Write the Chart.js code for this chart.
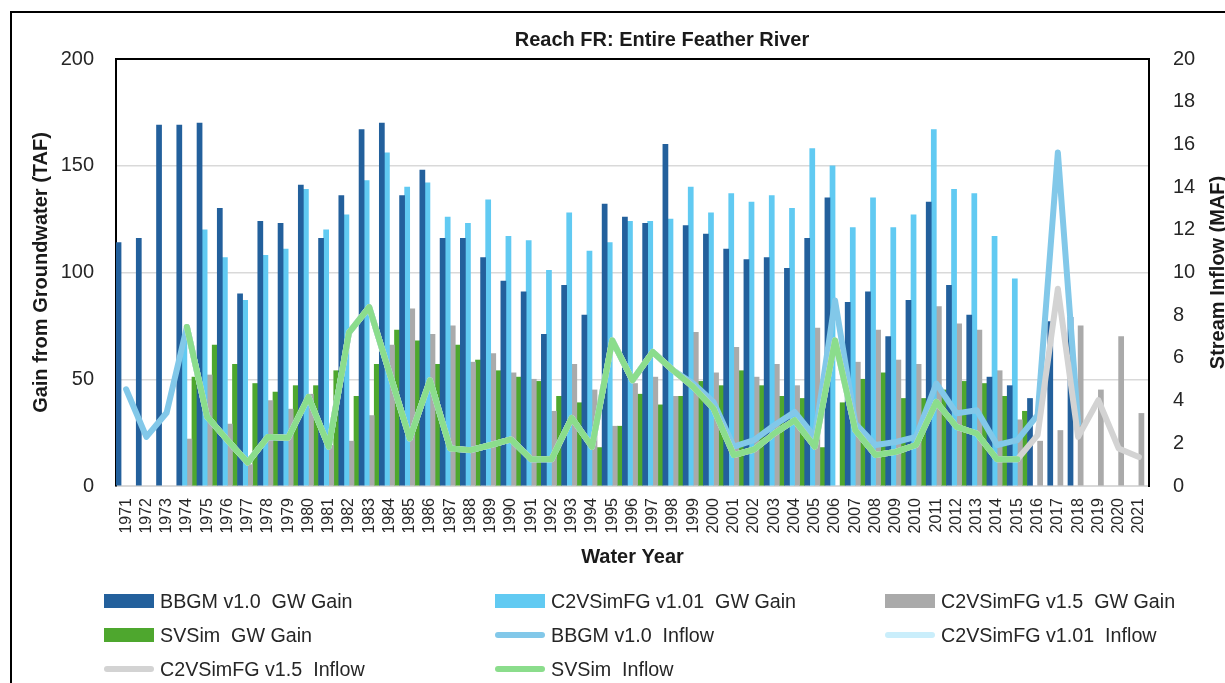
<!DOCTYPE html>
<html>
<head>
<meta charset="utf-8">
<script src="https://cdn.jsdelivr.net/npm/chart.js@4.4.1/dist/chart.umd.min.js"></script>
<style>
  html, body { margin: 0; padding: 0; background: #fff; }
  #wrap { position: relative; width: 1225px; height: 683px; overflow: hidden; }
  .lg-text { position: absolute; font: 19.7px 'Liberation Sans', Arial, sans-serif; color: #262626; white-space: pre; line-height: 22px; }
  .lg-sw { position: absolute; }
</style>
</head>
<body>
<div id="wrap">
  <canvas id="chart" width="1225" height="683"></canvas>
  <div id="legend"></div>
</div>
<script>
const years = [];
for (let y = 1971; y <= 2021; y++) years.push(String(y));

// GW gain, TAF (left axis)
const bbgmGain = [114, 116, 169, 169, 170, 130, 90, 124, 123, 141, 116, 136, 167, 170, 136, 148, 116, 116, 107, 96,
  91, 71, 94, 80, 132, 126, 123, 160, 122, 118, 111, 106, 107, 102, 116, 135, 86, 91, 70, 87,
  133, 94, 80, 51, 47, 41, 77, 79, null, null, null];
const c2v101Gain = [null, null, null, 69, 120, 107, 87, 108, 111, 139, 120, 127, 143, 156, 140, 142, 126, 123, 134, 117,
  115, 101, 128, 110, 114, 124, 124, 125, 140, 128, 137, 133, 136, 130, 158, 150, 121, 135, 121, 127,
  167, 139, 137, 117, 97, null, null, null, null, null, null];
const c2v15Gain = [null, null, null, 22, 52, 29, 10, 40, 36, 43, 19, 21, 33, 66, 83, 71, 75, 58, 62, 53,
  50, 35, 57, 45, 28, 48, 51, 42, 72, 53, 65, 51, 57, 47, 74, null, 58, 73, 59, 57,
  84, 76, 73, 54, 31, 21, 26, 75, 45, 70, 34];
const svsimGain = [null, null, null, 51, 66, 57, 48, 44, 47, 47, 54, 42, 57, 73, 68, 57, 66, 59, 54, 51,
  49, 42, 39, 18, 28, 43, 38, 42, 49, 47, 54, 47, 42, 41, 18, 39, 50, 53, 41, 41,
  45, 49, 48, 42, 35, null, null, null, null, null, null];

// stream inflow, MAF (right axis)
const bbgmInflow = [4.53, 2.3, 3.43, 7.45, 3.24, 2.15, 1.1, 2.3, 2.26, 4.17, 1.84, 7.18, 8.38, 5.3, 2.23, 4.95, 1.76, 1.68, 1.92, 2.18,
  1.25, 1.25, 3.19, 1.84, 6.82, 4.95, 6.28, 5.42, 4.8, 3.94, 1.84, 2.15, 2.85, 3.47, 2.3, 8.69, 2.93, 1.92, 2.06, 2.3,
  4.8, 3.4, 3.55, 1.92, 2.15, 3.32, 15.62, 2.93, null, null, null];
const c2v101Inflow = [null, null, null, 7.45, 3.24, 2.15, 1.1, 2.3, 2.26, 4.17, 1.84, 7.18, 8.38, 5.3, 2.23, 4.95, 1.76, 1.68, 1.92, 2.18,
  1.25, 1.25, 3.19, 1.84, 6.82, 4.95, 6.28, 5.42, 4.64, 3.63, 1.45, 1.71, 2.46, 3.08, 1.84, 6.82, 2.62, 1.45, 1.6, 1.92,
  3.94, 2.77, 2.46, 1.25, 1.25, null, null, null, null, null, null];
const c2v15Inflow = [null, null, null, 7.45, 3.24, 2.15, 1.1, 2.3, 2.26, 4.17, 1.84, 7.18, 8.38, 5.3, 2.23, 4.95, 1.76, 1.68, 1.92, 2.18,
  1.25, 1.25, 3.19, 1.84, 6.82, 4.95, 6.28, 5.42, 4.64, 3.63, 1.45, 1.71, 2.46, 3.08, 1.84, 6.82, 2.62, 1.45, 1.6, 1.92,
  3.94, 2.77, 2.46, 1.25, 1.25, 2.38, 9.24, 2.3, 4.02, 1.76, 1.36];
const svsimInflow = [null, null, null, 7.45, 3.24, 2.15, 1.1, 2.3, 2.26, 4.17, 1.84, 7.18, 8.38, 5.3, 2.23, 4.95, 1.76, 1.68, 1.92, 2.18,
  1.25, 1.25, 3.19, 1.84, 6.82, 4.95, 6.28, 5.42, 4.64, 3.63, 1.45, 1.71, 2.46, 3.08, 1.84, 6.82, 2.62, 1.45, 1.6, 1.92,
  3.94, 2.77, 2.46, 1.25, 1.25, null, null, null, null, null, null];

const leftTicks = [0, 50, 100, 150, 200];
const rightTicks = [0, 2, 4, 6, 8, 10, 12, 14, 16, 18, 20];

const FONT = "'Liberation Sans', Arial, sans-serif";

function barSet(label, data, color) {
  return { type: 'bar', label: label, data: data, backgroundColor: color, borderWidth: 0,
    yAxisID: 'y', order: 10, categoryPercentage: 1.0, barPercentage: 1.0 };
}
function lineSet(label, data, color, order) {
  return { type: 'line', label: label, data: data, borderColor: color, backgroundColor: color,
    borderWidth: 6, pointRadius: 0, tension: 0, yAxisID: 'y1', order: order,
    borderCapStyle: 'round', borderJoinStyle: 'round', spanGaps: false };
}

const framePlugin = {
  id: 'frame',
  beforeDraw(chart) {
    const ctx = chart.ctx;
    ctx.save();
    ctx.fillStyle = '#fff';
    ctx.fillRect(0, 0, chart.width, chart.height);
    ctx.strokeStyle = '#000';
    ctx.lineWidth = 2;
    ctx.beginPath();
    ctx.moveTo(11, chart.height + 2);
    ctx.lineTo(11, 12);
    ctx.lineTo(chart.width + 2, 12);
    ctx.stroke();
    ctx.restore();
  },
  afterDraw(chart) {
    const ctx = chart.ctx;
    const a = chart.chartArea;
    ctx.save();
    ctx.strokeStyle = '#000';
    ctx.lineWidth = 2;
    ctx.beginPath();
    ctx.moveTo(a.left - 1, a.top);
    ctx.lineTo(a.right + 1, a.top);
    ctx.stroke();
    ctx.fillStyle = '#1a1a1a';
    ctx.textAlign = 'center';
    ctx.textBaseline = 'middle';
    ctx.font = 'bold 20px ' + FONT;
    ctx.fillText('Reach FR: Entire Feather River', 662, 40);
    // right axis title, reading bottom to top like the left one
    ctx.translate(1218, (a.top + a.bottom) / 2);
    ctx.rotate(-Math.PI / 2);
    ctx.fillText('Stream Inflow (MAF)', 0, 0);
    ctx.restore();
  }
};

const chart = new Chart(document.getElementById('chart'), {
  data: {
    labels: years,
    datasets: [
      barSet('BBGM v1.0  GW Gain', bbgmGain, '#23609C'),
      barSet('C2VSimFG v1.01  GW Gain', c2v101Gain, '#61CAF2'),
      barSet('C2VSimFG v1.5  GW Gain', c2v15Gain, '#AAAAAA'),
      barSet('SVSim  GW Gain', svsimGain, '#4EA72E'),
      lineSet('BBGM v1.0  Inflow', bbgmInflow, '#82C8E9', 4),
      lineSet('C2VSimFG v1.01  Inflow', c2v101Inflow, '#CAEEFB', 3),
      lineSet('C2VSimFG v1.5  Inflow', c2v15Inflow, '#D3D3D3', 2),
      lineSet('SVSim  Inflow', svsimInflow, '#8BDD8C', 1)
    ]
  },
  options: {
    responsive: false,
    animation: false,
    layout: { padding: { left: 25, right: 0, top: 59, bottom: 110 } },
    plugins: {
      legend: { display: false },
      tooltip: { enabled: false },
      title: { display: false }
    },
    scales: {
      x: {
        grid: { display: false, drawTicks: false },
        border: { color: '#d9d9d9', width: 2 },
        ticks: { color: '#262626', font: { family: FONT, size: 16 }, minRotation: 90, maxRotation: 90,
          autoSkip: false, padding: 12 },
        title: { display: true, text: 'Water Year', color: '#1a1a1a',
          font: { family: FONT, size: 20, weight: 'bold', lineHeight: 1.2 } },
        afterFit(s) { s.height = 87; }
      },
      y: {
        position: 'left',
        min: 0, max: 200,
        afterBuildTicks(s) { s.ticks = leftTicks.map(v => ({ value: v })); },
        grid: { color: '#d9d9d9', lineWidth: 1.5, drawTicks: false },
        border: { color: '#000', width: 2 },
        ticks: { color: '#262626', font: { family: FONT, size: 20 }, padding: 22 },
        title: { display: true, text: 'Gain from Groundwater (TAF)', color: '#1a1a1a',
          font: { family: FONT, size: 20, weight: 'bold', lineHeight: 1.2 } },
        afterFit(s) { s.width = 91; }
      },
      y1: {
        position: 'right',
        min: 0, max: 20,
        afterBuildTicks(s) { s.ticks = rightTicks.map(v => ({ value: v })); },
        grid: { drawOnChartArea: false, drawTicks: false },
        border: { color: '#000', width: 2 },
        ticks: { color: '#262626', font: { family: FONT, size: 20 }, padding: 24 },
        afterFit(s) { s.width = 76; }
      }
    }
  },
  plugins: [framePlugin]
});

// legend laid out in three fixed columns like the original
const legendCols = [104, 495, 885];
const legendRows = [601, 635, 669];
const legendBox = document.getElementById('legend');
chart.data.datasets.forEach((ds, i) => {
  const x = legendCols[i % 3];
  const y = legendRows[Math.floor(i / 3)];
  const sw = document.createElement('div');
  sw.className = 'lg-sw';
  if (ds.type === 'bar') {
    sw.style.cssText = `left:${x}px;top:${y - 7}px;width:50px;height:14px;background:${ds.backgroundColor}`;
  } else {
    sw.style.cssText = `left:${x}px;top:${y - 3}px;width:50px;height:6px;border-radius:3px;background:${ds.borderColor}`;
  }
  const tx = document.createElement('div');
  tx.className = 'lg-text';
  tx.style.left = (x + 56) + 'px';
  tx.style.top = (y - 11) + 'px';
  tx.textContent = ds.label;
  legendBox.appendChild(sw);
  legendBox.appendChild(tx);
});
</script>
</body>
</html>
